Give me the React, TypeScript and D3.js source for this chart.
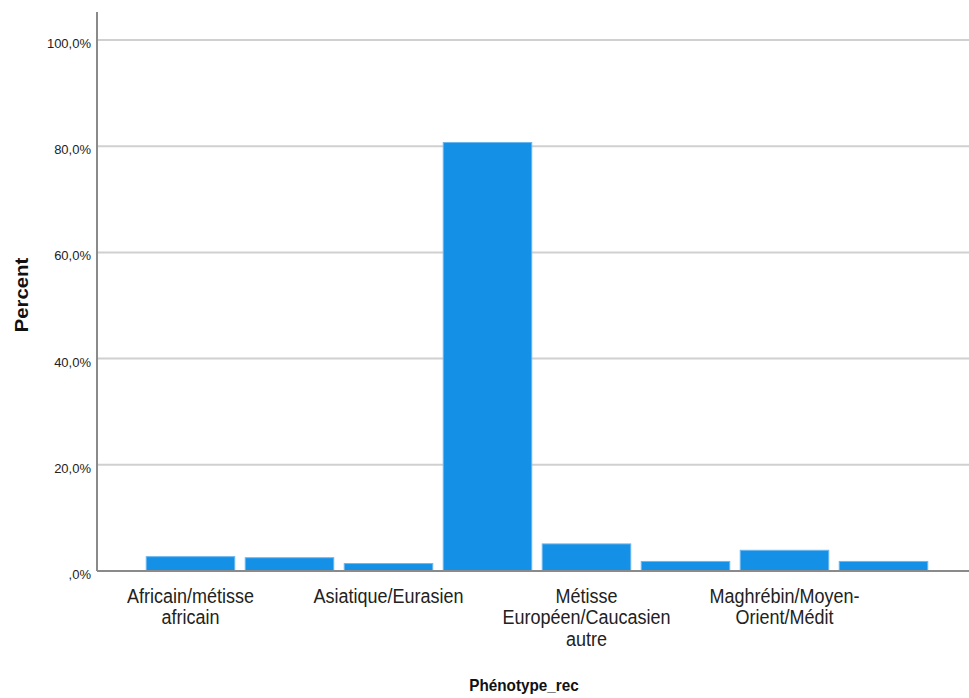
import React from "react";
import * as d3 from "d3";

const categories = [
  "Africain/métisse africain",
  "Cat2",
  "Asiatique/Eurasien",
  "Cat4",
  "Métisse Européen/Caucasien autre",
  "Cat6",
  "Maghrébin/Moyen-Orient/Médit",
  "Cat8",
];
const values = [2.7, 2.5, 1.4, 80.7, 5.1, 1.8, 3.9, 1.8];
const labelLines = [
  ["Africain/métisse", "africain"],
  [],
  ["Asiatique/Eurasien"],
  [],
  ["Métisse", "Européen/Caucasien", "autre"],
  [],
  ["Maghrébin/Moyen-", "Orient/Médit"],
  [],
];
const yTicks = [0, 20, 40, 60, 80, 100];
const fmt = (v: number) => (v === 0 ? ",0%" : `${v},0%`);

const W = 969;
const H = 698;
const axisX = 97;
const plotTop = 12;
const baseY = 571;

export default function App() {
  const y = d3.scaleLinear().domain([0, 100]).range([baseY, 40]);
  const x = d3
    .scaleBand<string>()
    .domain(categories)
    .range([141, 933])
    .paddingInner(0.106)
    .paddingOuter(0.053);
  const font = "'Liberation Sans', Arial, sans-serif";
  return (
    <svg
      width={W}
      height={H}
      style={{ position: "absolute", left: 0, top: 0, background: "#fff" }}
      fontFamily={font}
    >
      {yTicks.slice(1).map((t) => (
        <line key={t} x1={axisX} x2={W} y1={y(t)} y2={y(t)} stroke="#d0d0d0" strokeWidth={2} />
      ))}
      {categories.map((c, i) => (
        <rect
          key={c}
          x={x(c)!}
          y={y(values[i])}
          width={x.bandwidth()}
          height={baseY - y(values[i])}
          fill="#1490e6"
          stroke="#6ab6ef"
          strokeWidth={1}
        />
      ))}
      <line x1={axisX} x2={axisX} y1={plotTop} y2={baseY} stroke="#8a8a8a" strokeWidth={2} />
      <line x1={axisX} x2={W} y1={baseY} y2={baseY} stroke="#8a8a8a" strokeWidth={2} />
      {yTicks.map((t) => (
        <text key={t} x={91} y={y(t) + 8} textAnchor="end" fontSize={13} fill="#222">
          {fmt(t)}
        </text>
      ))}
      {categories.map((c, i) =>
        labelLines[i].map((ln, j) => (
          <text
            key={c + j}
            transform={`translate(${x(c)! + x.bandwidth() / 2},${602.5 + j * 21.7}) scale(1,1.17)`}
            textAnchor="middle"
            fontSize={18}
            fill="#222"
          >
            {ln}
          </text>
        ))
      )}
      <text
        transform={`translate(28,295) rotate(-90) scale(1.13,1)`}
        textAnchor="middle"
        fontSize={18}
        fontWeight="bold"
        fill="#111"
      >
        Percent
      </text>
      <text
        transform={`translate(524,690.7) scale(1,1.13)`}
        textAnchor="middle"
        fontSize={15.3}
        fontWeight="bold"
        fill="#111"
      >
        Phénotype_rec
      </text>
    </svg>
  );
}
